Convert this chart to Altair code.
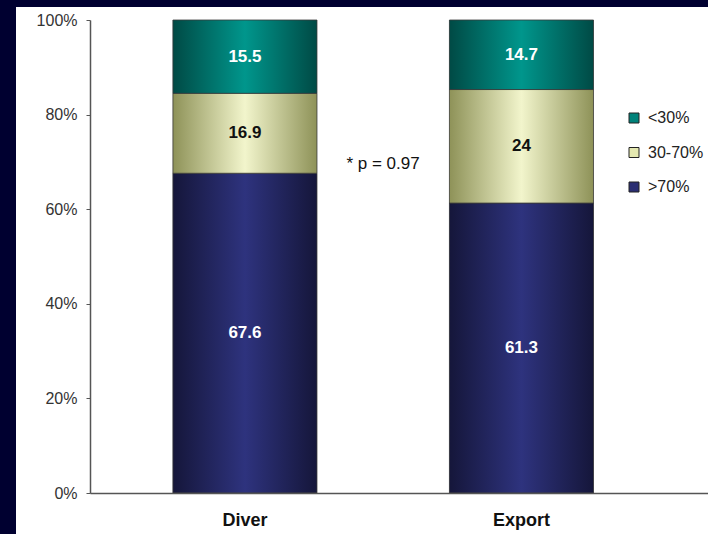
import altair as alt
import pandas as pd

categories = ["Diver", "Export"]
segments = [">70%", "30-70%", "<30%"]
values_gt70 = [67.6, 61.3]
values_30_70 = [16.9, 24]
values_lt30 = [15.5, 14.7]
y_ticks = [0, 20, 40, 60, 80, 100]
legend_order = ["<30%", "30-70%", ">70%"]
annotation_text = "* p = 0.97"
annotation_y = 69.5

solid_colors = {"<30%": "#00827a", "30-70%": "#e4e8b0", ">70%": "#2a2e72"}
gradient_stops = {
    "<30%": ["#004a45", "#00968c", "#004a45"],
    "30-70%": ["#8e9258", "#f2f5cc", "#8e9258"],
    ">70%": ["#15163a", "#2e337e", "#15163a"],
}

rows = []
for i, c in enumerate(categories):
    start = 0.0
    for seg, vals in zip(segments, [values_gt70, values_30_70, values_lt30]):
        v = vals[i]
        rows.append(dict(cat=c, seg=seg, value=v, start=start, end=start + v,
                         mid=start + v / 2, label=f"{v:g}"))
        start += v
df = pd.DataFrame(rows)

FONT = "Liberation Sans"
W, H = 618, 473

x_scale = alt.Scale(paddingInner=0.479, paddingOuter=0.357, align=0.42)
x_axis = alt.Axis(title=None, labelAngle=0, labelFontWeight="bold",
                  labelFontSize=18, labelColor="#111", tickSize=0,
                  labelPadding=18, domainColor="#555", domainWidth=1.5, labelFont=FONT,
                  zindex=1)
x_enc = alt.X("cat:N", sort=categories, scale=x_scale, axis=x_axis)

y_scale = alt.Scale(domain=[0, 100])
y_axis = alt.Axis(values=y_ticks, labelExpr="datum.value + '%'", title=None,
                  grid=False, tickSize=4, labelPadding=9, labelFontSize=16,
                  labelColor="#333", domainColor="#555", tickColor="#555",
                  domainWidth=1.5, labelFont=FONT, zindex=1)


def y_enc(field):
    return alt.Y(field, scale=y_scale, axis=y_axis)


background = alt.Chart(pd.DataFrame({"a": [0]})).mark_rect(color="white").encode(
    x=alt.value(-74), x2=alt.value(W), y=alt.value(-13), y2=alt.value(514))

solid = alt.Chart(df).mark_bar().encode(
    x=x_enc,
    y=y_enc("start:Q"),
    y2="end:Q",
    color=alt.Color("seg:N",
                    scale=alt.Scale(domain=legend_order,
                                    range=[solid_colors[s] for s in legend_order]),
                    legend=alt.Legend(title=None, orient="none", legendX=536, legendY=90,
                                      symbolType="square", symbolSize=100,
                                      symbolStrokeColor="#222", symbolStrokeWidth=1,
                                      symbolOpacity=1, zindex=1,
                                      labelFontSize=16, labelColor="#222", labelFont=FONT,
                                      rowPadding=18.5, labelOffset=6)),
)

grad_layers = []
for seg in segments:
    cols = gradient_stops[seg]
    grad = alt.Gradient(gradient="linear", x1=0, x2=1, y1=0, y2=0,
                        stops=[alt.GradientStop(color=cols[0], offset=0),
                               alt.GradientStop(color=cols[1], offset=0.5),
                               alt.GradientStop(color=cols[2], offset=1)])
    grad_layers.append(
        alt.Chart(df).transform_filter(alt.datum.seg == seg)
        .mark_bar(fill=grad, stroke="#3a3a3a", strokeWidth=0.8)
        .encode(x=x_enc, y=y_enc("start:Q"), y2="end:Q")
    )

labels = alt.Chart(df).mark_text(fontSize=17, fontWeight="bold", font=FONT,
                                 baseline="middle").encode(
    x=x_enc,
    y=y_enc("mid:Q"),
    text="label:N",
    color=alt.condition(alt.datum.seg == "30-70%", alt.value("#111"), alt.value("white")),
)

annot = alt.Chart(pd.DataFrame({"t": [annotation_text]})).mark_text(
    fontSize=17, font=FONT, color="#111", align="center", baseline="middle").encode(
    x=alt.value(293), y=alt.Y(datum=annotation_y, scale=y_scale, axis=y_axis), text="t:N")

chart = alt.layer(background, solid, *grad_layers, labels, annot).properties(
    width=W, height=H,
    background="#000030",
    padding={"left": 90, "top": 20, "right": 0, "bottom": 41},
    autosize=alt.AutoSizeParams(type="none"),
).configure_view(stroke=None)

chart.save("out.html", embed_options={"renderer": "svg", "actions": False})
